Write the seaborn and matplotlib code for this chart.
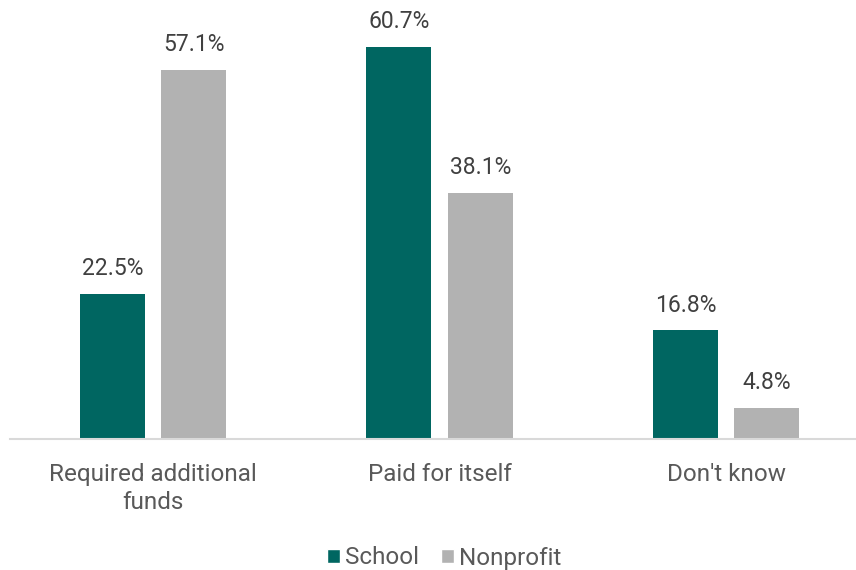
import matplotlib
matplotlib.use("Agg")
import matplotlib.pyplot as plt
import seaborn as sns
import pandas as pd
from matplotlib.patches import Patch

categories = ["Required additional\nfunds", "Paid for itself", "Don't know"]
series = ["School", "Nonprofit"]
school = [22.5, 60.7, 16.8]
nonprofit = [57.1, 38.1, 4.8]

colors = {"School": "#006661", "Nonprofit": "#B2B2B2"}

df = pd.DataFrame({
    "category": categories * 2,
    "group": ["School"] * 3 + ["Nonprofit"] * 3,
    "value": school + nonprofit,
})

sns.set_theme(style="white")
plt.rcParams["font.family"] = ["Roboto", "DejaVu Sans"]

fig = plt.figure(figsize=(8.56, 5.70), dpi=100)
ax = fig.add_axes([10 / 856, 131 / 570, 846 / 856, 0.737])

sns.barplot(data=df, x="category", y="value", hue="group", order=categories,
            hue_order=series, palette=colors, width=0.569, gap=0.2025,
            saturation=1, legend=False, ax=ax, linewidth=0)

for cont in ax.containers:
    ax.bar_label(cont, labels=[f"{v:.1f}%" for v in cont.datavalues],
                 padding=10, fontsize=16.5, color="#404040")

ax.set_xlim(-0.5, 2.453)
ax.set_ylim(0, 65)
ax.set_xlabel("")
ax.set_ylabel("")
ax.set_yticks([])
ax.tick_params(axis="x", length=0, pad=17, labelsize=17.5, labelcolor="#595959")
for lbl in ax.get_xticklabels():
    lbl.set_linespacing(1.3)
for side in ["top", "right", "left"]:
    ax.spines[side].set_visible(False)
ax.spines["bottom"].set_color("#D9D9D9")
ax.spines["bottom"].set_linewidth(1.5)

handles = [Patch(facecolor=colors[s], label=s) for s in series]
fig.legend(handles=handles, loc="center", bbox_to_anchor=(444 / 856, 1 - 558 / 570),
           ncol=2, frameon=False, fontsize=17.5, handlelength=0.55, handleheight=0.55,
           handletextpad=0.2, columnspacing=0.9, labelcolor="#595959")

fig.savefig("out.png", dpi=100)
